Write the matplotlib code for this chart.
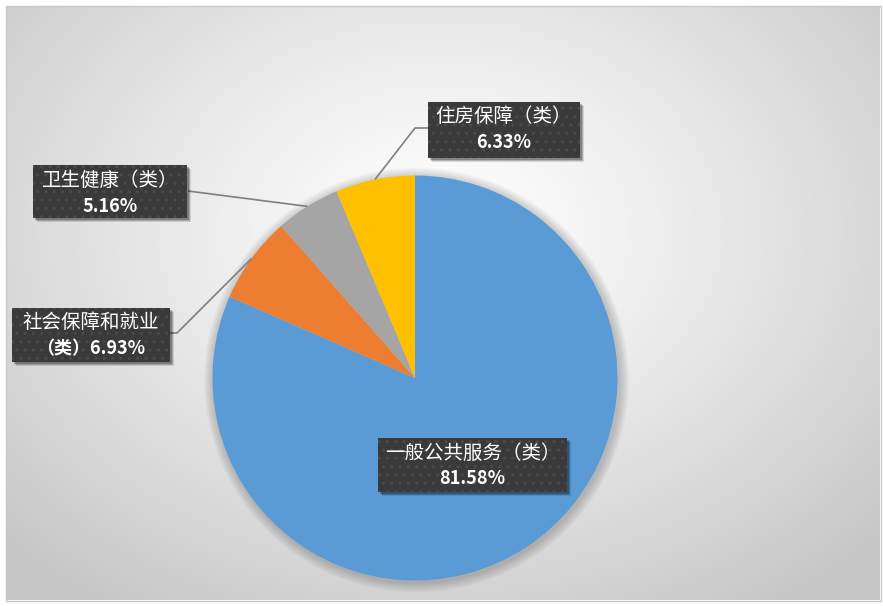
import numpy as np
import matplotlib
matplotlib.use('Agg')
import matplotlib.pyplot as plt
from matplotlib.patches import Rectangle, Circle

plt.rcParams['font.family'] = ['Noto Sans CJK SC', 'DejaVu Sans']
plt.rcParams['hatch.linewidth'] = 1.0

# ---- data ----
categories = ['一般公共服务（类）', '社会保障和就业（类）', '卫生健康（类）', '住房保障（类）']
values = [81.58, 6.93, 5.16, 6.33]
colors = ['#5B9BD5', '#ED7D31', '#A5A5A5', '#FFC000']

# label layout: first line / second line prefix, box (x0, y0, x1, y1) in px, elbow points in px
label_first = ['一般公共服务（类）', '社会保障和就业', '卫生健康（类）', '住房保障（类）']
label_second_prefix = ['', '（类）', '', '']
boxes = [(378, 438, 567, 492), (12, 308, 170, 362), (33, 165, 187, 218), (428, 102, 580, 158)]
elbows = [None, [(177, 333), (168, 333)], [(188, 191)], [(415, 128), (428, 128)]]

W, H = 883, 606
fig = plt.figure(figsize=(W / 100, H / 100), dpi=100)
fig.patch.set_facecolor('white')
ax = fig.add_axes([0, 0, 1, 1])


def Y(y):
    return H - y


# background radial gradient
gx = np.linspace(7, 880, 400)
gy = np.linspace(6, 600, 300)
GX, GY = np.meshgrid(gx, gy)
d = np.sqrt(((GX - 440) / 600) ** 2 + ((GY - 230) / 450) ** 2)
v = 1 - 0.22 * np.clip(d, 0, 1) ** 1.2
img = np.dstack([v, v, v])
ax.imshow(img, extent=(7, 880, Y(600), Y(6)), origin='upper', zorder=0,
          aspect='auto', interpolation='bilinear')
ax.add_patch(Rectangle((6, Y(601)), 875, 595, fill=False, edgecolor='#c8c8c8',
                       lw=1, zorder=0.5))

cx, cy, R = 415, Y(378), 202.5

# soft pie shadow
for k in range(10):
    ax.add_patch(Circle((cx + 1.5, cy - 2), R + 1 + k * 1.0, facecolor='black',
                        edgecolor='none', alpha=0.018, zorder=1))

wedges, _ = ax.pie(values, colors=colors, startangle=90, counterclock=False,
                   center=(cx, cy), radius=R, frame=True,
                   wedgeprops=dict(edgecolor='none', linewidth=0, zorder=2))
for w in wedges:
    w.set_zorder(2)

# leader lines
for w, el in zip(wedges, elbows):
    if el is None:
        continue
    th = np.deg2rad((w.theta1 + w.theta2) / 2)
    ax_, ay_ = cx + R * np.cos(th), cy + R * np.sin(th)
    xs = [ax_] + [p[0] for p in el]
    ys = [ay_] + [Y(p[1]) for p in el]
    ax.plot(xs, ys, color='#7f7f7f', lw=1.2, zorder=3, solid_capstyle='butt')

# label boxes
for first, pre, val, (x0, y0, x1, y1) in zip(label_first, label_second_prefix, values, boxes):
    w_, h_ = x1 - x0, y1 - y0
    for off, a in [(4, 0.12), (3, 0.18), (2, 0.25)]:
        ax.add_patch(Rectangle((x0 + off, Y(y1 + off)), w_, h_, facecolor='black',
                               edgecolor='none', alpha=a, zorder=4))
    ax.add_patch(Rectangle((x0, Y(y1)), w_, h_, facecolor='#3a3a3a',
                           edgecolor='none', zorder=5))
    ax.add_patch(Rectangle((x0, Y(y1)), w_, h_, facecolor='none', hatch='..',
                           edgecolor='#4a4a4a', linewidth=0, zorder=5.5))
    xc = (x0 + x1) / 2
    ax.text(xc, Y(y0 + 15), first, color='white', fontsize=14, ha='center',
            va='center', zorder=6)
    ax.text(xc, Y(y0 + 41), f'{pre}{val:.2f}%', color='white', fontsize=13,
            fontweight='bold', ha='center', va='center', zorder=6)

ax.set_xlim(0, W)
ax.set_ylim(0, H)
ax.set_aspect('auto')
ax.axis('off')

fig.savefig('out.png', dpi=100, facecolor='white')
